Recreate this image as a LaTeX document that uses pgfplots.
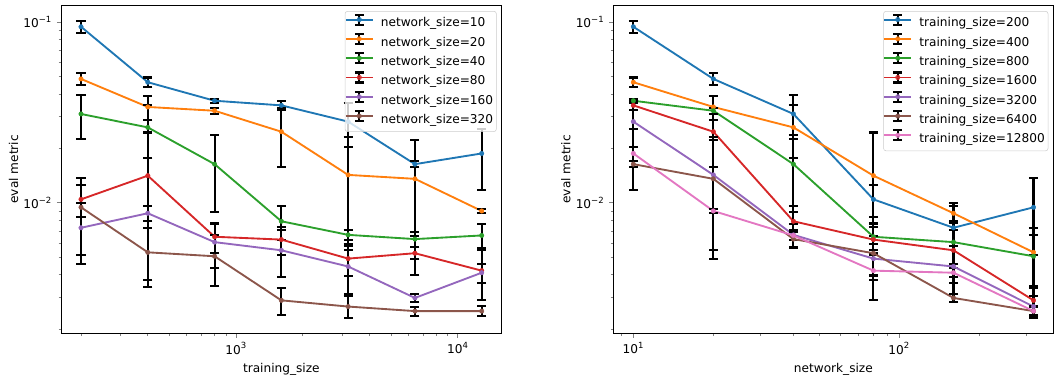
\documentclass[border=0pt]{standalone}
\usepackage{pgfplots}
\pgfplotsset{compat=1.18}
\usepackage{pgfplotstable}
\usepackage{fontspec}
\setmainfont{DejaVu Sans}

\definecolor{c0}{HTML}{1F77B4}
\definecolor{c1}{HTML}{FF7F0E}
\definecolor{c2}{HTML}{2CA02C}
\definecolor{c3}{HTML}{D62728}
\definecolor{c4}{HTML}{9467BD}
\definecolor{c5}{HTML}{8C564B}
\definecolor{c6}{HTML}{E377C2}

% rows: training size; columns: network size (value, error)
\pgfplotstableread{
ts n10 e10 n20 e20 n40 e40 n80 e80 n160 e160 n320 e320
200 0.0945 0.0076 0.0486 0.0036 0.0311 0.0085 0.01047 0.0021 0.00729 0.0027 0.00946 0.0043
400 0.0466 0.0029 0.0340 0.0053 0.0262 0.0085 0.01416 0.0104 0.00877 0.0008 0.00533 0.0019
800 0.0368 0.0010 0.0324 0.0012 0.0164 0.0075 0.00650 0.0012 0.00607 0.0017 0.00507 0.0016
1600 0.0347 0.0019 0.0248 0.0089 0.00792 0.0017 0.00627 0.0011 0.00547 0.0016 0.00289 0.0005
3200 0.0282 0.0077 0.0143 0.0088 0.00666 0.0004 0.00492 0.0010 0.00445 0.0013 0.00267 0.00037
6400 0.0164 0.0006 0.0136 0.0087 0.00631 0.0006 0.00527 0.0013 0.00298 0.00015 0.00252 0.00015
12800 0.0188 0.0070 0.00903 0.0002 0.00661 0.0010 0.00422 0.0013 0.00411 0.0005 0.00252 0.00016
}\lefttab

% rows: network size; columns: training size (value, error)
\pgfplotstableread{
ns t200 e200 t400 e400 t800 e800 t1600 e1600 t3200 e3200 t6400 e6400 t12800 e12800
10 0.0945 0.0076 0.0466 0.0029 0.0368 0.0010 0.0347 0.0019 0.0282 0.0077 0.0164 0.0006 0.0188 0.0070
20 0.0486 0.0036 0.0340 0.0053 0.0324 0.0012 0.0248 0.0089 0.0143 0.0088 0.0136 0.0087 0.00903 0.0002
40 0.0311 0.0085 0.0262 0.0085 0.0164 0.0075 0.00792 0.0017 0.00666 0.0004 0.00631 0.0006 0.00661 0.0010
80 0.01047 0.0021 0.01416 0.0104 0.00650 0.0012 0.00627 0.0011 0.00492 0.0010 0.00527 0.0013 0.00422 0.0013
160 0.00729 0.0027 0.00877 0.0008 0.00607 0.0017 0.00547 0.0016 0.00445 0.0013 0.00298 0.00015 0.00411 0.0005
320 0.00946 0.0043 0.00533 0.0019 0.00507 0.0016 0.00289 0.0005 0.00267 0.00037 0.00252 0.00015 0.00252 0.00016
}\righttab

\newcommand{\fs}{\fontsize{9.1}{11}\selectfont}

\begin{document}
\begin{tikzpicture}
\useasboundingbox (0,0) rectangle (791.25pt,282.75pt);
\begin{axis}[at={(45.75pt,32.5pt)}, anchor=south west,
  scale only axis, width=330.5pt, height=246.5pt,
  xmode=log, ymode=log,
  xmin=162.5, xmax=15750, ymin=0.00189, ymax=0.1247,
  xtick={1000,10000}, xticklabels={10\textsuperscript{3},10\textsuperscript{4}},
  minor xtick={200,300,400,500,600,700,800,900,2000,3000,4000,5000,6000,7000,8000,9000},
  ytick={0.01,0.1}, yticklabels={10\textsuperscript{−2},10\textsuperscript{−1}},
  minor ytick={0.002,0.003,0.004,0.005,0.006,0.007,0.008,0.009,0.02,0.03,0.04,0.05,0.06,0.07,0.08,0.09},
  tick align=outside, tick pos=left,
  major tick length=3.2pt, minor tick length=1.8pt,
  major tick style={line width=0.73pt}, minor tick style={line width=0.55pt},
  axis line style={line width=0.73pt},
  tick label style={font=\fs}, label style={font=\fs},
  xlabel={training\_size}, ylabel={eval metric},
  ylabel style={yshift=-3pt},
  legend cell align=left,
  legend image code/.code={
    \draw[black, line width=1.55pt] (10pt,-0.75pt) -- (10pt,6.75pt) (6.6pt,-0.75pt) -- (13.4pt,-0.75pt) (6.6pt,6.75pt) -- (13.4pt,6.75pt);
    \draw[mark repeat=2, mark phase=2, #1] plot coordinates {(0pt,3pt) (10pt,3pt) (20pt,3pt)};
  },
  legend style={at={(1,1)}, anchor=north east, xshift=-3.75pt, yshift=-4.5pt,
    draw=black!20, rounded corners=2pt, fill=white, fill opacity=0.8,
    text opacity=1, draw opacity=1, font=\fs,
    inner xsep=0pt, inner ysep=1.7pt, row sep=0pt, column sep=3pt,
    nodes={inner xsep=2.5pt, inner ysep=2.2pt, text height=7.2pt, text depth=2.3pt}},
  cycle list={{c0,mark=*},{c1,mark=*},{c2,mark=*},{c3,mark=*},{c4,mark=*},{c5,mark=*}},
  every axis plot/.append style={line width=1.4pt, mark size=1.7pt, mark options={solid, line width=0.3pt}},
  ]
\addplot+[error bars/y dir=both, error bars/y explicit, error bars/error bar style={black, line width=1.55pt}, error bars/error mark options={black, line width=1.55pt, mark size=3.4pt, rotate=90}] table[x=ts, y=n10, y error=e10] {\lefttab};
\addlegendentry{network\_size=10}
\addplot+[error bars/y dir=both, error bars/y explicit, error bars/error bar style={black, line width=1.55pt}, error bars/error mark options={black, line width=1.55pt, mark size=3.4pt, rotate=90}] table[x=ts, y=n20, y error=e20] {\lefttab};
\addlegendentry{network\_size=20}
\addplot+[error bars/y dir=both, error bars/y explicit, error bars/error bar style={black, line width=1.55pt}, error bars/error mark options={black, line width=1.55pt, mark size=3.4pt, rotate=90}] table[x=ts, y=n40, y error=e40] {\lefttab};
\addlegendentry{network\_size=40}
\addplot+[error bars/y dir=both, error bars/y explicit, error bars/error bar style={black, line width=1.55pt}, error bars/error mark options={black, line width=1.55pt, mark size=3.4pt, rotate=90}] table[x=ts, y=n80, y error=e80] {\lefttab};
\addlegendentry{network\_size=80}
\addplot+[error bars/y dir=both, error bars/y explicit, error bars/error bar style={black, line width=1.55pt}, error bars/error mark options={black, line width=1.55pt, mark size=3.4pt, rotate=90}] table[x=ts, y=n160, y error=e160] {\lefttab};
\addlegendentry{network\_size=160}
\addplot+[error bars/y dir=both, error bars/y explicit, error bars/error bar style={black, line width=1.55pt}, error bars/error mark options={black, line width=1.55pt, mark size=3.4pt, rotate=90}] table[x=ts, y=n320, y error=e320] {\lefttab};
\addlegendentry{network\_size=320}
\end{axis}
\begin{axis}[at={(460pt,32.5pt)}, anchor=south west,
  scale only axis, width=330pt, height=246.5pt,
  xmode=log, ymode=log,
  xmin=8.41, xmax=380, ymin=0.00189, ymax=0.1247,
  xtick={10,100}, xticklabels={10\textsuperscript{1},10\textsuperscript{2}},
  minor xtick={9,20,30,40,50,60,70,80,90,200,300},
  ytick={0.01,0.1}, yticklabels={10\textsuperscript{−2},10\textsuperscript{−1}},
  minor ytick={0.002,0.003,0.004,0.005,0.006,0.007,0.008,0.009,0.02,0.03,0.04,0.05,0.06,0.07,0.08,0.09},
  tick align=outside, tick pos=left,
  major tick length=3.2pt, minor tick length=1.8pt,
  major tick style={line width=0.73pt}, minor tick style={line width=0.55pt},
  axis line style={line width=0.73pt},
  tick label style={font=\fs}, label style={font=\fs},
  xlabel={network\_size}, ylabel={eval metric},
  ylabel style={yshift=-3pt},
  legend cell align=left,
  legend image code/.code={
    \draw[black, line width=1.55pt] (10pt,-0.75pt) -- (10pt,6.75pt) (6.6pt,-0.75pt) -- (13.4pt,-0.75pt) (6.6pt,6.75pt) -- (13.4pt,6.75pt);
    \draw[mark repeat=2, mark phase=2, #1] plot coordinates {(0pt,3pt) (10pt,3pt) (20pt,3pt)};
  },
  legend style={at={(1,1)}, anchor=north east, xshift=-3.75pt, yshift=-4.5pt,
    draw=black!20, rounded corners=2pt, fill=white, fill opacity=0.8,
    text opacity=1, draw opacity=1, font=\fs,
    inner xsep=0pt, inner ysep=1.7pt, row sep=0pt, column sep=3pt,
    nodes={inner xsep=2.5pt, inner ysep=2.2pt, text height=7.2pt, text depth=2.3pt}},
  cycle list={{c0,mark=*},{c1,mark=*},{c2,mark=*},{c3,mark=*},{c4,mark=*},{c5,mark=*},{c6,mark=*}},
  every axis plot/.append style={line width=1.4pt, mark size=1.7pt, mark options={solid, line width=0.3pt}},
  ]
\addplot+[error bars/y dir=both, error bars/y explicit, error bars/error bar style={black, line width=1.55pt}, error bars/error mark options={black, line width=1.55pt, mark size=3.4pt, rotate=90}] table[x=ns, y=t200, y error=e200] {\righttab};
\addlegendentry{training\_size=200}
\addplot+[error bars/y dir=both, error bars/y explicit, error bars/error bar style={black, line width=1.55pt}, error bars/error mark options={black, line width=1.55pt, mark size=3.4pt, rotate=90}] table[x=ns, y=t400, y error=e400] {\righttab};
\addlegendentry{training\_size=400}
\addplot+[error bars/y dir=both, error bars/y explicit, error bars/error bar style={black, line width=1.55pt}, error bars/error mark options={black, line width=1.55pt, mark size=3.4pt, rotate=90}] table[x=ns, y=t800, y error=e800] {\righttab};
\addlegendentry{training\_size=800}
\addplot+[error bars/y dir=both, error bars/y explicit, error bars/error bar style={black, line width=1.55pt}, error bars/error mark options={black, line width=1.55pt, mark size=3.4pt, rotate=90}] table[x=ns, y=t1600, y error=e1600] {\righttab};
\addlegendentry{training\_size=1600}
\addplot+[error bars/y dir=both, error bars/y explicit, error bars/error bar style={black, line width=1.55pt}, error bars/error mark options={black, line width=1.55pt, mark size=3.4pt, rotate=90}] table[x=ns, y=t3200, y error=e3200] {\righttab};
\addlegendentry{training\_size=3200}
\addplot+[error bars/y dir=both, error bars/y explicit, error bars/error bar style={black, line width=1.55pt}, error bars/error mark options={black, line width=1.55pt, mark size=3.4pt, rotate=90}] table[x=ns, y=t6400, y error=e6400] {\righttab};
\addlegendentry{training\_size=6400}
\addplot+[error bars/y dir=both, error bars/y explicit, error bars/error bar style={black, line width=1.55pt}, error bars/error mark options={black, line width=1.55pt, mark size=3.4pt, rotate=90}] table[x=ns, y=t12800, y error=e12800] {\righttab};
\addlegendentry{training\_size=12800}
\end{axis}
\end{tikzpicture}
\end{document}
